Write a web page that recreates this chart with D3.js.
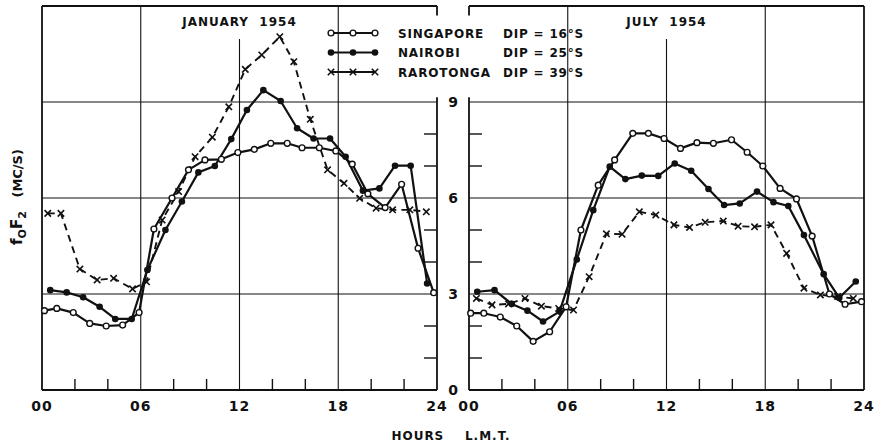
<!DOCTYPE html>
<html>
<head>
<meta charset="utf-8">
<script src="https://cdn.jsdelivr.net/npm/d3@7"></script>
<style>
  body { margin: 0; background: #fff; }
  svg { display: block; }
  text { font-family: "DejaVu Sans", sans-serif; font-weight: bold; fill: #111; }
</style>
</head>
<body>
<div id="chart"></div>
<script>
// panel titles, legend rows, tick labels
const panelTitles = ['JANUARY  1954', 'JULY  1954'];
const stations = ['SINGAPORE', 'NAIROBI', 'RAROTONGA'];
const dips = ['DIP = 16°S', 'DIP = 25°S', 'DIP = 39°S'];
const hourTicks = [0, 6, 12, 18, 24];
const hourLabels = ['00', '06', '12', '18', '24'];
const minorHours = [2, 4, 8, 10, 14, 16, 20, 22];
const fTicks = [0, 3, 6, 9];
const minorF = [1, 2, 4, 5, 7, 8];

// January 1954 (hours L.M.T., foF2 in Mc/s)
const janSingaporeHours = [0.15, 0.9, 1.9, 2.9, 3.9, 4.9, 5.9, 6.8, 7.9, 8.9, 9.9, 10.9, 11.9, 12.9, 13.9, 14.9, 15.8, 16.85, 17.85, 18.85, 19.8, 20.85, 21.85, 22.85, 23.8];
const janSingapore = [2.48, 2.55, 2.42, 2.08, 2.0, 2.03, 2.42, 5.03, 6.0, 6.88, 7.19, 7.21, 7.42, 7.52, 7.71, 7.71, 7.57, 7.57, 7.47, 7.06, 6.13, 5.7, 6.43, 4.43, 3.04];
const janNairobiHours = [0.5, 1.5, 2.5, 3.5, 4.45, 5.45, 6.4, 7.5, 8.5, 9.5, 10.5, 11.5, 12.45, 13.45, 14.5, 15.5, 16.5, 17.5, 18.45, 19.5, 20.5, 21.45, 22.4, 23.4];
const janNairobi = [3.12, 3.05, 2.9, 2.6, 2.22, 2.22, 3.75, 5.0, 5.89, 6.8, 7.0, 7.84, 8.75, 9.37, 9.03, 8.18, 7.86, 7.86, 7.29, 6.23, 6.3, 7.01, 7.01, 3.33];
const janRarotongaHours = [0.35, 1.15, 2.3, 3.35, 4.35, 5.5, 6.35, 7.3, 8.3, 9.3, 10.35, 11.35, 12.35, 13.35, 14.45, 15.3, 16.3, 17.35, 18.35, 19.3, 20.3, 21.3, 22.35, 23.35];
const janRarotonga = [5.52, 5.52, 3.78, 3.44, 3.49, 3.16, 3.38, 5.31, 6.2, 7.29, 7.9, 8.85, 10.02, 10.47, 11.04, 10.26, 8.46, 6.88, 6.46, 5.99, 5.68, 5.63, 5.63, 5.57];

// July 1954
const julSingaporeHours = [0.1, 0.9, 1.9, 2.9, 3.9, 4.9, 5.9, 6.8, 7.85, 8.85, 9.95, 10.9, 11.85, 12.85, 13.85, 14.85, 15.95, 16.9, 17.85, 18.9, 19.9, 20.85, 21.9, 22.85, 23.85];
const julSingapore = [2.4, 2.4, 2.28, 2.0, 1.52, 1.82, 2.6, 5.0, 6.4, 7.19, 8.02, 8.02, 7.86, 7.55, 7.73, 7.71, 7.82, 7.43, 7.0, 6.3, 5.97, 4.81, 3.0, 2.68, 2.76];
const julNairobiHours = [0.5, 1.55, 2.6, 3.55, 4.5, 5.5, 6.55, 7.55, 8.55, 9.5, 10.5, 11.5, 12.5, 13.5, 14.55, 15.5, 16.45, 17.5, 18.5, 19.4, 20.35, 21.55, 22.5, 23.5];
const julNairobi = [3.07, 3.12, 2.69, 2.48, 2.14, 2.45, 4.08, 5.62, 6.98, 6.59, 6.7, 6.69, 7.08, 6.85, 6.28, 5.78, 5.83, 6.2, 5.87, 5.75, 4.84, 3.62, 2.88, 3.39];
const julRarotongaHours = [0.45, 1.4, 2.4, 3.4, 4.4, 5.45, 6.35, 7.3, 8.35, 9.3, 10.35, 11.35, 12.45, 13.4, 14.35, 15.45, 16.35, 17.35, 18.35, 19.3, 20.35, 21.35, 22.4, 23.35];
const julRarotonga = [2.86, 2.66, 2.69, 2.86, 2.62, 2.55, 2.5, 3.54, 4.88, 4.87, 5.57, 5.47, 5.16, 5.08, 5.24, 5.28, 5.12, 5.1, 5.16, 4.27, 3.18, 2.97, 2.92, 2.86];

const W = 881, H = 444;
const svg = d3.select('#chart').append('svg').attr('width', W).attr('height', H);

const y = d3.scaleLinear().domain([0, 12]).range([390, 6]);
const panels = [
  { x: d3.scaleLinear().domain([0, 24]).range([42, 437]), side: 'left', title: panelTitles[0],
    series: [
      { kind: 'x', hours: janRarotongaHours, vals: janRarotonga },
      { kind: 'dot', hours: janNairobiHours, vals: janNairobi },
      { kind: 'open', hours: janSingaporeHours, vals: janSingapore }
    ] },
  { x: d3.scaleLinear().domain([0, 24]).range([469, 864]), side: 'right', title: panelTitles[1],
    series: [
      { kind: 'x', hours: julRarotongaHours, vals: julRarotonga },
      { kind: 'dot', hours: julNairobiHours, vals: julNairobi },
      { kind: 'open', hours: julSingaporeHours, vals: julSingapore }
    ] }
];

const ink = '#111';

function drawMarker(g, kind, cx, cy) {
  if (kind === 'open') {
    g.append('circle').attr('cx', cx).attr('cy', cy).attr('r', 2.9)
      .attr('fill', '#fff').attr('stroke', ink).attr('stroke-width', 1.4);
  } else if (kind === 'dot') {
    g.append('circle').attr('cx', cx).attr('cy', cy).attr('r', 3.3).attr('fill', ink);
  } else {
    const s = 3.2;
    g.append('path')
      .attr('d', `M${cx - s},${cy - s}L${cx + s},${cy + s}M${cx + s},${cy - s}L${cx - s},${cy + s}`)
      .attr('stroke', ink).attr('stroke-width', 1.6).attr('fill', 'none');
  }
}

panels.forEach(p => {
  const g = svg.append('g');
  const x = p.x;
  const [x0, x1] = x.range();

  // frame
  const frame = g.append('g').attr('stroke', ink).attr('stroke-width', 1.8).attr('fill', 'none');
  frame.append('line').attr('x1', x0).attr('x2', x1).attr('y1', y(12)).attr('y2', y(12));
  frame.append('line').attr('x1', x0).attr('x2', x1).attr('y1', y(0)).attr('y2', y(0));
  const outer = p.side === 'left' ? x0 : x1;
  const inner = p.side === 'left' ? x1 : x0;
  frame.append('line').attr('x1', outer).attr('x2', outer).attr('y1', y(12)).attr('y2', y(0));
  frame.append('line').attr('x1', inner).attr('x2', inner).attr('y1', y(9.15)).attr('y2', y(0));
  frame.append('line').attr('x1', inner).attr('x2', inner).attr('y1', y(12)).attr('y2', y(11.7));

  // grid
  const grid = g.append('g').attr('stroke', ink).attr('stroke-width', 1.1);
  [3, 6, 9].forEach(v => {
    grid.append('line').attr('x1', x0).attr('x2', x1).attr('y1', y(v)).attr('y2', y(v));
  });
  [6, 12, 18].forEach(h => {
    grid.append('line').attr('x1', x(h)).attr('x2', x(h))
      .attr('y1', h === 12 ? y(10.97) : y(12)).attr('y2', y(0));
  });

  // minor ticks
  const ticks = g.append('g').attr('stroke', ink).attr('stroke-width', 1.4);
  minorHours.forEach(h => {
    ticks.append('line').attr('x1', x(h)).attr('x2', x(h)).attr('y1', y(0)).attr('y2', y(0) - 11);
  });
  const dir = p.side === 'left' ? -1 : 1;
  minorF.forEach(v => {
    ticks.append('line').attr('x1', inner).attr('x2', inner + dir * 13).attr('y1', y(v)).attr('y2', y(v));
  });

  // hour labels
  hourTicks.forEach((h, i) => {
    g.append('text').attr('x', x(h)).attr('y', 411).attr('text-anchor', 'middle')
      .attr('font-size', 14).attr('letter-spacing', 1).text(hourLabels[i]);
  });

  // title
  g.append('text').attr('x', x(12)).attr('y', 26).attr('text-anchor', 'middle')
    .attr('font-size', 12).attr('letter-spacing', 1).attr('xml:space', 'preserve').text(p.title);

  // curves
  const line = d3.line().x(d => x(d[0])).y(d => y(d[1]));
  p.series.forEach(s => {
    const pts = s.hours.map((h, i) => [h, s.vals[i]]);
    g.append('path').datum(pts).attr('d', line)
      .attr('fill', 'none').attr('stroke', ink).attr('stroke-width', s.kind === 'x' ? 1.9 : 2.2)
      .attr('stroke-linejoin', 'round')
      .attr('stroke-dasharray', s.kind === 'x' ? '7,5' : null);
  });
  p.series.forEach(s => {
    const mg = g.append('g');
    s.hours.forEach((h, i) => drawMarker(mg, s.kind, x(h), y(s.vals[i])));
  });
});

// shared f-axis labels between panels
fTicks.forEach(v => {
  svg.append('text').attr('x', 453).attr('y', y(v) + 5).attr('text-anchor', 'middle')
    .attr('font-size', 14).text(v);
});

// legend
const legKinds = ['open', 'dot', 'x'];
const lg = svg.append('g');
stations.forEach((name, i) => {
  const ly = 33 + i * 19.5;
  lg.append('line').attr('x1', 331).attr('x2', 375).attr('y1', ly).attr('y2', ly)
    .attr('stroke', ink).attr('stroke-width', 2);
  [331, 353, 375].forEach(lx => drawMarker(lg, legKinds[i], lx, ly));
  lg.append('text').attr('x', 398).attr('y', ly + 4.5).attr('font-size', 12).attr('letter-spacing', 0.8).text(name);
  lg.append('text').attr('x', 503).attr('y', ly + 4.5).attr('font-size', 12).attr('letter-spacing', 0.8).text(dips[i]);
});

// axis titles
svg.append('text').attr('x', 451).attr('y', 440).attr('text-anchor', 'middle')
  .attr('font-size', 12).attr('letter-spacing', 1).attr('xml:space', 'preserve').text('HOURS    L.M.T.');

const yl = svg.append('text').attr('transform', 'translate(22,197) rotate(-90)')
  .attr('text-anchor', 'middle').attr('font-size', 15).attr('xml:space', 'preserve');
yl.append('tspan').text('f');
yl.append('tspan').attr('font-size', 11).attr('dy', 4).text('O');
yl.append('tspan').attr('dy', -4).text('F');
yl.append('tspan').attr('font-size', 11).attr('dy', 4).text('2');
yl.append('tspan').attr('dy', -4).attr('font-size', 13).text('   (MC/S)');
</script>
</body>
</html>
